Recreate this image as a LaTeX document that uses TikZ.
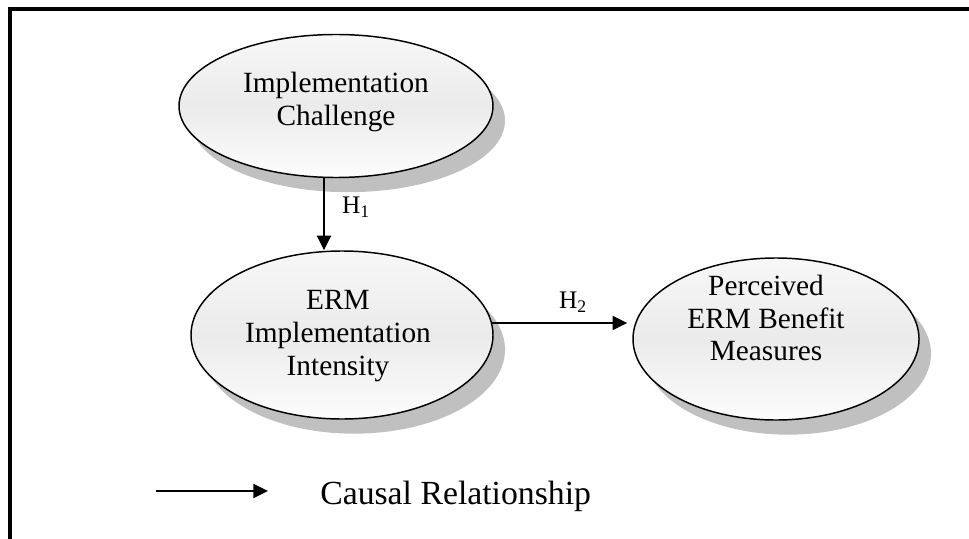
\documentclass[tikz,border=0pt]{standalone}
\usepackage{fontspec}
\setmainfont{Liberation Serif}
\usetikzlibrary{shapes.geometric,shadows,calc,arrows.meta}
\begin{document}
\begin{tikzpicture}[x=0.75pt,y=-0.75pt,
  bubble/.style={ellipse, draw=black, line width=1.1pt, inner sep=0pt,
    top color=gray!6, bottom color=gray!2, middle color=gray!16,
    drop shadow={shadow xshift=9pt, shadow yshift=-11pt,
      fill={rgb,255:red,192;green,192;blue,192}, opacity=1}},
  lbl/.style={align=center, font=\fontsize{22}{24.5}\selectfont, inner sep=0pt},
  hlbl/.style={font=\fontsize{19}{21}\selectfont, inner sep=0pt},
  arr/.style={line width=1.5pt, -{Triangle[length=11pt,width=10.5pt]}}]
\useasboundingbox (0,0) rectangle (969,538);
\clip (0,0) rectangle (969,538);
% frame
\draw[line width=3pt, line join=miter] (10,560) -- (10,9) -- (990,9);
% ellipses
\node[bubble, minimum width=235.5pt, minimum height=107.25pt] (e1) at (336,106) {};
\node[bubble, minimum width=226.5pt, minimum height=126pt] (e2) at (342,335) {};
\node[bubble, minimum width=214.5pt, minimum height=121.5pt] (e3) at (776,339) {};
% texts
\node[lbl] (t1) at (336,102) {Implementation\\Challenge};
\node[lbl] (t2) at (338,336) {ERM\\Implementation\\Intensity};
\node[lbl] (t3) at (766,318) {Perceived\\ERM Benefit\\Measures};
% connectors
\draw[arr] ($(e1.south)+(-12,0)$) -- ($(e2.north)+(-18,0)$);
\draw[arr] ($(e2.east)+(-1.5,-12)$) -- ($(e3.west)+(-5,-16)$);
\node[hlbl] (h1) at (356,207) {H\textsubscript{1}};
\node[hlbl] (h2) at (573,302) {H\textsubscript{2}};
% legend
\coordinate (l1) at (156,491);
\coordinate (l2) at (268,491);
\draw[arr] (l1) -- (l2);
\node[anchor=west, inner sep=0pt, font=\fontsize{25.3}{28}\selectfont] (leg) at (320,496) {Causal Relationship};
\end{tikzpicture}
\end{document}
